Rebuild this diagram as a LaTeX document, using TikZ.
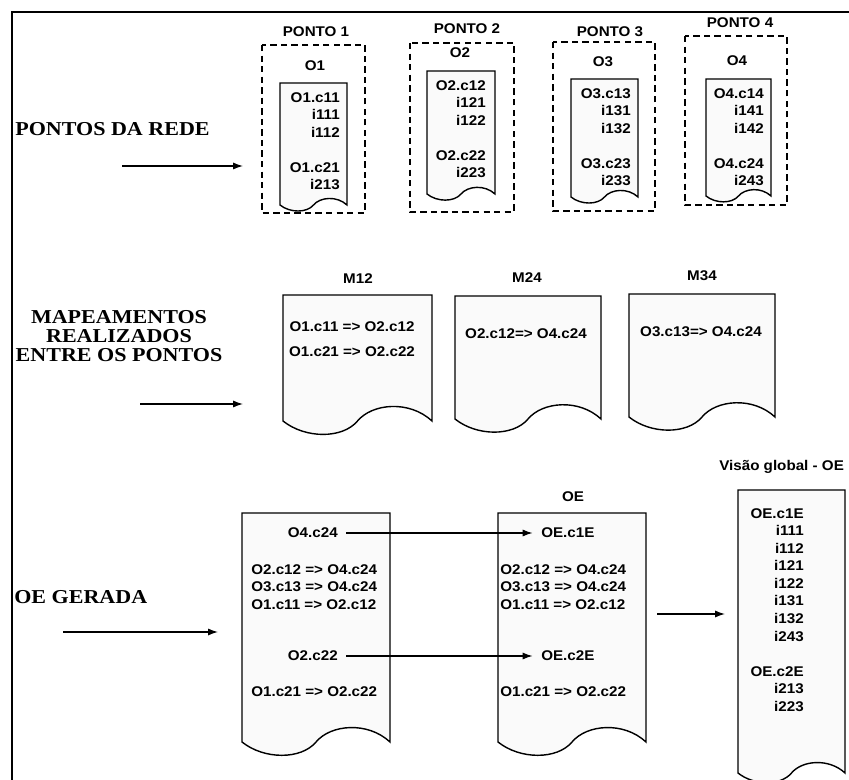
\documentclass[tikz,border=0pt]{standalone}
\usepackage{fontspec}
\setmainfont{Liberation Sans}[FakeStretch=1.08]
\newfontfamily\headfont{Liberation Serif}[FakeStretch=1.12]
\usetikzlibrary{arrows.meta}

% folha com a borda de baixo ondulada: esquerda, topo, direita, base
\newcommand\papel[4]{%
 \draw[docline] (#1,#4) -- (#1,#2) -- (#3,#2) -- (#3,#4)
  .. controls ({#3-.15*(#3-#1)},{#4-.14*(#3-#1)}) and ({#1+.6*(#3-#1)},{#4-.12*(#3-#1)}) .. ({#1+.5*(#3-#1)},#4)
  .. controls ({#1+.4*(#3-#1)},{#4+.12*(#3-#1)}) and ({#1+.15*(#3-#1)},{#4+.12*(#3-#1)}) .. (#1,#4) -- cycle;}

\begin{document}
\begin{tikzpicture}[x=.025cm,y=-.025cm,
  txt/.style={font=\bfseries\fontsize{10}{12.5}\selectfont,inner sep=0pt},
  head/.style={font=\headfont\bfseries\fontsize{14}{13.8}\selectfont,inner sep=0pt,align=center},
  ponto/.style={dash pattern=on 4.5pt off 3pt,line width=.9pt},
  docline/.style={line width=1pt,fill=black!2},
  seta/.style={-{Latex[length=7pt,width=5pt]},line width=.9pt}]
 \useasboundingbox (0,0) rectangle (849,780);
 \draw[line width=2pt] (849,12) -- (12,12) -- (12,780);

 % pontos da rede
 \node[head,anchor=west] (rede) at (15,129) {PONTOS DA REDE};
 \coordinate (r0) at (122,166); \coordinate (r1) at (243,166);
 \draw[seta] (r0) -- (r1);
 \draw[ponto] (262,45) rectangle (365,213);
 \draw[ponto] (410,43) rectangle (514,212);
 \draw[ponto] (553,42) rectangle (655,211);
 \draw[ponto] (685,36) rectangle (787,205);
 \foreach \n/\x/\y in {1/316/32,2/467/29,3/610/32,4/740/23} \node[txt] (ponto\n) at (\x,\y) {PONTO \n};
 \foreach \n/\x/\y in {1/315/66,2/460/53,3/603/62,4/737/61} \node[txt] (o\n) at (\x,\y) {O\n};
 \papel{280}{83}{347}{205}
 \papel{427}{71}{495}{194}
 \papel{571}{79}{638}{197}
 \papel{706}{79}{771}{196}
 \node[txt,align=right,anchor=north east] (l1) at (340,92) {O1.c11\\i111\\i112\\[12.5pt]O1.c21\\i213};
 \node[txt,align=right,anchor=north east] (l2) at (486,80) {O2.c12\\i121\\i122\\[12.5pt]O2.c22\\i223};
 \node[txt,align=right,anchor=north east] (l3) at (631,88) {O3.c13\\i131\\i132\\[12.5pt]O3.c23\\i233};
 \node[txt,align=right,anchor=north east] (l4) at (764,88) {O4.c14\\i141\\i142\\[12.5pt]O4.c24\\i243};

 % mapeamentos
 \node[head] (mapa) at (119,336) {MAPEAMENTOS\\REALIZADOS\\ENTRE OS PONTOS};
 \coordinate (m0) at (140,404); \coordinate (m1) at (243,404);
 \draw[seta] (m0) -- (m1);
 \papel{283}{295}{432}{421}
 \papel{455}{296}{601}{419}
 \papel{629}{294}{775}{417}
 \foreach \m/\x/\y in {12/358/279,24/527/278,34/702/276} \node[txt] (m\m) at (\x,\y) {M\m};
 \node[txt] (m12a) at (352,327) {O1.c11 => O2.c12};
 \node[txt] (m12b) at (352,352) {O1.c21 => O2.c22};
 \node[txt] (m24a) at (526,334) {O2.c12=> O4.c24};
 \node[txt] (m34a) at (701,332) {O3.c13=> O4.c24};

 % OE gerada
 \node[head,anchor=west] (gerada) at (14,597) {OE GERADA};
 \coordinate (g0) at (63,632); \coordinate (g1) at (218,632);
 \draw[seta] (g0) -- (g1);
 \papel{242}{513}{390}{742}
 \papel{498}{513}{646}{742}
 \papel{738}{490}{845}{773}
 \node[txt] (oe) at (573,497) {OE};
 \node[txt,anchor=west] (global) at (719,467) {Visão global - OE};
 \node[txt,anchor=east] (c24) at (338,533) {O4.c24};
 \node[txt,anchor=north west,align=left] (lista1) at (251,564) {O2.c12 => O4.c24\\O3.c13 => O4.c24\\O1.c11 => O2.c12};
 \node[txt,anchor=east] (c22) at (338,656) {O2.c22};
 \node[txt,anchor=west] (r21a) at (251,692) {O1.c21 => O2.c22};
 \node[txt,anchor=west] (c1E) at (541,533) {OE.c1E};
 \node[txt,anchor=north west,align=left] (lista2) at (500,564) {O2.c12 => O4.c24\\O3.c13 => O4.c24\\O1.c11 => O2.c12};
 \node[txt,anchor=west] (c2E) at (541,656) {OE.c2E};
 \node[txt,anchor=west] (r21b) at (500,692) {O1.c21 => O2.c22};
 \draw[seta,shorten <=6pt,shorten >=6pt] (c24) -- (c1E);
 \draw[seta,shorten <=6pt,shorten >=6pt] (c22) -- (c2E);
 \node[txt,align=right,anchor=north east] (vg) at (804,508) {OE.c1E\\i111\\i112\\i121\\i122\\i131\\i132\\i243\\[12.5pt]OE.c2E\\i213\\i223};
 \coordinate (v0) at (657,614); \coordinate (v1) at (725,614);
 \draw[seta] (v0) -- (v1);
\end{tikzpicture}
\end{document}
